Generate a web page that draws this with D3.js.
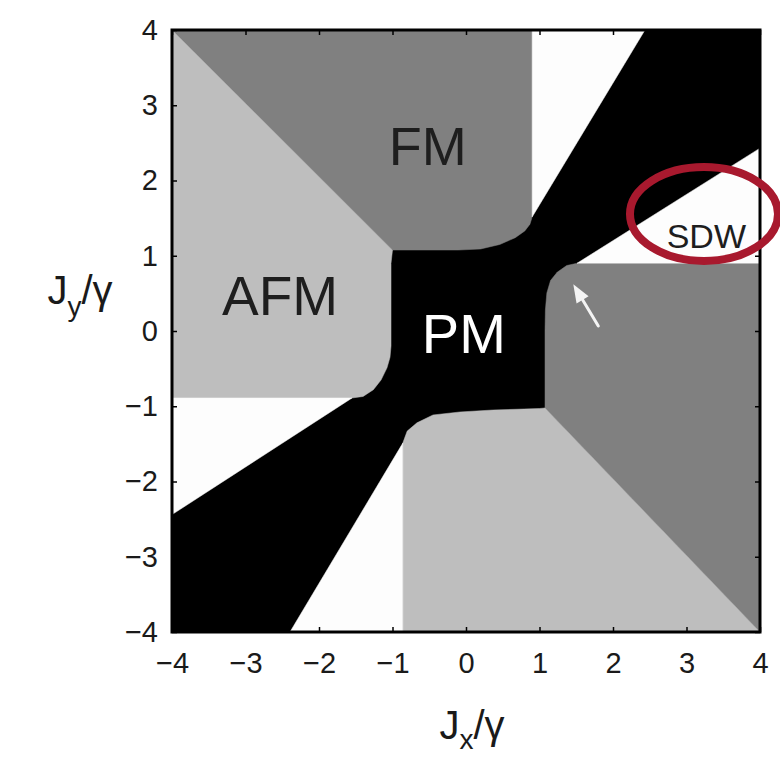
<!DOCTYPE html>
<html>
<head>
<meta charset="utf-8">
<script src="https://cdn.jsdelivr.net/npm/d3@7"></script>
<style>
  html, body { margin: 0; padding: 0; background: #ffffff; }
  svg { display: block; }
  text { font-family: "Liberation Sans", Arial, Helvetica, sans-serif; }
</style>
</head>
<body>
<svg id="chart" width="780" height="761"></svg>
<script>
// ---------- data (in J/γ units) ----------
const xTicks = [-4, -3, -2, -1, 0, 1, 2, 3, 4];
const yTicks = [-4, -3, -2, -1, 0, 1, 2, 3, 4];

// phase regions (PM = black background of the plot)
const fmTop = [[-4, 4], [0.9, 4], [0.9, 1.515], [0.87, 1.42], [0.8, 1.33], [0.67, 1.24],
  [0.46, 1.15], [0.2, 1.09], [-0.1, 1.076], [-1.0, 1.076]];
const afmLeft = [[-4, 4], [-1.0, 1.076], [-1.02, 0.9], [-1.02, -0.2], [-1.034, -0.35],
  [-1.075, -0.49], [-1.156, -0.651], [-1.26, -0.78], [-1.4, -0.87], [-1.55, -0.89], [-4, -0.89]];
const fmRight = [[4, -4], [1.075, -1.023], [1.075, 0.0], [1.08, 0.28], [1.10, 0.505],
  [1.15, 0.67], [1.24, 0.78], [1.37, 0.87], [1.51, 0.9], [4, 0.9]];
const afmLower = [[-0.86, -4], [-0.86, -1.49], [-0.8, -1.33], [-0.667, -1.22], [-0.449, -1.116],
  [-0.082, -1.076], [0.367, -1.05], [1.0, -1.03], [1.075, -1.023], [4, -4]];
const whiteTop = [[0.9, 4], [2.435, 4], [0.9, 1.515]];
const whiteSDW = [[1.51, 0.9], [4, 0.9], [4, 2.43]];
const whiteLeft = [[-4, -0.89], [-1.55, -0.89], [-4, -2.44]];
const whiteBottom = [[-0.86, -4], [-2.395, -4], [-0.86, -1.49]];

const regions = [
  { name: "FM", pts: fmTop, color: "#808080" },
  { name: "AFM", pts: afmLeft, color: "#bebebe" },
  { name: "FM", pts: fmRight, color: "#808080" },
  { name: "AFM", pts: afmLower, color: "#bebebe" },
  { name: "SDW", pts: whiteTop, color: "#fdfdfd" },
  { name: "SDW", pts: whiteSDW, color: "#fdfdfd" },
  { name: "SDW", pts: whiteLeft, color: "#fdfdfd" },
  { name: "SDW", pts: whiteBottom, color: "#fdfdfd" }
];

const phaseLabels = [
  { text: "FM", x: -0.52, y: 2.47, size: 54, color: "#1e1e1e" },
  { text: "AFM", x: -2.53, y: 0.48, size: 55, color: "#1e1e1e" },
  { text: "PM", x: -0.03, y: -0.03, size: 56, color: "#ffffff" },
  { text: "SDW", x: 3.27, y: 1.26, size: 34, color: "#1e1e1e" }
];

const arrowTip = [1.46, 0.62];
const arrowTail = [1.8, 0.066];
const ellipseCenter = [3.238, 1.555];

// ---------- drawing ----------
const svg = d3.select("#chart");
const x = d3.scaleLinear().domain([-4, 4]).range([172, 760]);
const y = d3.scaleLinear().domain([-4, 4]).range([632, 30]);

// plot background (PM)
svg.append("rect")
  .attr("x", x(-4)).attr("y", y(4))
  .attr("width", x(4) - x(-4)).attr("height", y(-4) - y(4))
  .attr("fill", "#000000");

const line = d3.line().x(d => x(d[0])).y(d => y(d[1]));
svg.append("g").selectAll("path")
  .data(regions)
  .join("path")
  .attr("d", d => line(d.pts) + "Z")
  .attr("fill", d => d.color)
  .attr("stroke", d => d.color)
  .attr("stroke-width", 0.5);

// axes
const tickFont = 29;
const ax = svg.append("g").attr("transform", `translate(0,${y(-4)})`)
  .call(d3.axisBottom(x).tickValues(xTicks).tickSize(-5).tickPadding(20));
const ay = svg.append("g").attr("transform", `translate(${x(-4)},0)`)
  .call(d3.axisLeft(y).tickValues(yTicks).tickSize(-5).tickPadding(14));
const at = svg.append("g").attr("transform", `translate(0,${y(4)})`)
  .call(d3.axisTop(x).tickValues(xTicks).tickSize(-5).tickFormat(""));
const ar = svg.append("g").attr("transform", `translate(${x(4)},0)`)
  .call(d3.axisRight(y).tickValues(yTicks).tickSize(-5).tickFormat(""));
[ax, ay, at, ar].forEach(g => {
  g.select(".domain").remove();
  g.selectAll(".tick line").attr("stroke", "#000").attr("stroke-width", 1.5);
  g.selectAll(".tick text").attr("font-size", tickFont).attr("fill", "#1a1a1a")
    .attr("font-family", '"Liberation Sans", Arial, sans-serif');
});

// frame
svg.append("rect")
  .attr("x", x(-4)).attr("y", y(4))
  .attr("width", x(4) - x(-4)).attr("height", y(-4) - y(4))
  .attr("fill", "none").attr("stroke", "#000").attr("stroke-width", 3);

// phase labels
svg.append("g").selectAll("text")
  .data(phaseLabels)
  .join("text")
  .attr("x", d => x(d.x)).attr("y", d => y(d.y))
  .attr("dy", "0.36em")
  .attr("text-anchor", "middle")
  .attr("font-size", d => d.size)
  .attr("fill", d => d.color)
  .text(d => d.text);

// arrow
const tipX = x(arrowTip[0]), tipY = y(arrowTip[1]);
const tailX = x(arrowTail[0]), tailY = y(arrowTail[1]);
const ang = Math.atan2(tipY - tailY, tipX - tailX);
const headLen = 18, headW = 7;
const bx = tipX - headLen * Math.cos(ang), by = tipY - headLen * Math.sin(ang);
svg.append("line")
  .attr("x1", tailX).attr("y1", tailY).attr("x2", bx).attr("y2", by)
  .attr("stroke", "#f4f4f4").attr("stroke-width", 3).attr("stroke-linecap", "round");
svg.append("path")
  .attr("d", `M${tipX},${tipY}L${bx + headW * Math.sin(ang)},${by - headW * Math.cos(ang)}L${bx - headW * Math.sin(ang)},${by + headW * Math.cos(ang)}Z`)
  .attr("fill", "#f4f4f4");

// red ellipse annotation
svg.append("ellipse")
  .attr("cx", x(ellipseCenter[0])).attr("cy", y(ellipseCenter[1]))
  .attr("rx", 74).attr("ry", 47)
  .attr("fill", "none").attr("stroke", "#a8192e").attr("stroke-width", 8);

// axis titles
const xt = svg.append("text").attr("x", 472).attr("y", 739)
  .attr("text-anchor", "middle").attr("font-size", 40).attr("fill", "#1a1a1a");
xt.append("tspan").text("J");
xt.append("tspan").attr("font-size", 28).attr("dy", 10).text("x");
xt.append("tspan").attr("dy", -10).text("/γ");

const yt = svg.append("text").attr("x", 80).attr("y", 304)
  .attr("text-anchor", "middle").attr("font-size", 40).attr("fill", "#1a1a1a");
yt.append("tspan").text("J");
yt.append("tspan").attr("font-size", 28).attr("dy", 12).text("y");
yt.append("tspan").attr("dy", -12).text("/γ");
</script>
</body>
</html>
